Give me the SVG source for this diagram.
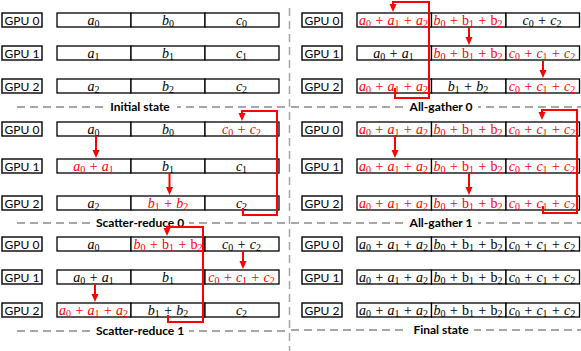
<svg xmlns="http://www.w3.org/2000/svg" width="581" height="351" viewBox="0 0 581 351">
<defs>
<style>
.lb{fill:#fff;stroke:#000;stroke-width:1.4}
.cl{fill:#fff;stroke:#000;stroke-width:1.3}
.lt{font-family:Lato,"Liberation Sans",sans-serif;font-size:12px;text-anchor:middle;fill:#000}
.m{font-family:"Liberation Serif",serif;font-style:italic;font-size:14px;text-anchor:middle;fill:#000}
.s{font-size:10px;font-style:normal}
.u{font-style:normal}
.r{fill:#f00}
.cap{font-family:Lato,"Liberation Sans",sans-serif;font-weight:bold;font-size:12px;text-anchor:middle;fill:#000}
.dash{stroke:#a6a6a6;stroke-width:2;stroke-dasharray:8 5;fill:none}
.vd{stroke:#a6a6a6;stroke-width:1.5;stroke-dasharray:8 5;fill:none}
.gap{fill:#fff}
.ar{stroke:#f00;stroke-width:2;fill:none;marker-end:url(#ah)}
</style>
<marker id="ah" markerUnits="userSpaceOnUse" markerWidth="8" markerHeight="8" viewBox="0 0 8 8" refX="5" refY="4" orient="auto"><path d="M0,0.5 L8,4 L0,7.5 z" fill="#f00"/></marker>
</defs>
<rect width="581" height="351" fill="#fff"/>

<g id="separators">
<line class="vd" x1="289.5" y1="8" x2="289.5" y2="351"/>
<line class="dash" x1="17" y1="107" x2="289" y2="107"/>
<line class="dash" x1="17" y1="223" x2="289" y2="223"/>
<line class="dash" x1="17" y1="331" x2="289" y2="331"/>
<line class="dash" x1="291" y1="107" x2="581" y2="107"/>
<line class="dash" x1="291" y1="223" x2="581" y2="223"/>
<line class="dash" x1="291" y1="330" x2="581" y2="330"/>
<rect class="gap" x="104" y="100" width="73" height="14"/>
<rect class="gap" x="90" y="216" width="99" height="14"/>
<rect class="gap" x="90" y="324" width="99" height="14"/>
<rect class="gap" x="404" y="100" width="74" height="14"/>
<rect class="gap" x="404" y="216" width="74" height="14"/>
<rect class="gap" x="408" y="323" width="66" height="14"/>
<text class="cap" x="140" y="111">Initial state</text>
<text class="cap" x="140" y="227">Scatter-reduce 0</text>
<text class="cap" x="140" y="335">Scatter-reduce 1</text>
<text class="cap" x="441" y="111">All-gather 0</text>
<text class="cap" x="441" y="227">All-gather 1</text>
<text class="cap" x="441" y="334">Final state</text>
</g>

<!-- Initial state -->
<g id="init-gpu0">
<rect class="lb" x="2" y="13" width="40" height="14"/><text class="lt" x="22" y="24.5">GPU 0</text>
<rect class="cl" x="57" y="13" width="74" height="14"/><rect class="cl" x="131" y="13" width="74" height="14"/><rect class="cl" x="205" y="13" width="74" height="14"/>
<text class="m" x="93.5" y="24.5">a<tspan class="s" dy="2.5">0</tspan></text>
<text class="m" x="168" y="24.5">b<tspan class="s" dy="2.5">0</tspan></text>
<text class="m" x="241.5" y="24.5">c<tspan class="s" dy="2.5">0</tspan></text>
</g>
<g id="init-gpu1">
<rect class="lb" x="2" y="46" width="40" height="14"/><text class="lt" x="22" y="57.5">GPU 1</text>
<rect class="cl" x="57" y="46" width="74" height="14"/><rect class="cl" x="131" y="46" width="74" height="14"/><rect class="cl" x="205" y="46" width="74" height="14"/>
<text class="m" x="93.5" y="57.5">a<tspan class="s" dy="2.5">1</tspan></text>
<text class="m" x="168" y="57.5">b<tspan class="s" dy="2.5">1</tspan></text>
<text class="m" x="241.5" y="57.5">c<tspan class="s" dy="2.5">1</tspan></text>
</g>
<g id="init-gpu2">
<rect class="lb" x="2" y="79" width="40" height="14"/><text class="lt" x="22" y="90.5">GPU 2</text>
<rect class="cl" x="57" y="79" width="74" height="14"/><rect class="cl" x="131" y="79" width="74" height="14"/><rect class="cl" x="205" y="79" width="74" height="14"/>
<text class="m" x="93.5" y="90.5">a<tspan class="s" dy="2.5">2</tspan></text>
<text class="m" x="168" y="90.5">b<tspan class="s" dy="2.5">2</tspan></text>
<text class="m" x="241.5" y="90.5">c<tspan class="s" dy="2.5">2</tspan></text>
</g>

<!-- Scatter-reduce 0 -->
<g id="sr0-gpu0">
<rect class="lb" x="2" y="122" width="40" height="14"/><text class="lt" x="22" y="133.5">GPU 0</text>
<rect class="cl" x="57" y="122" width="74" height="14"/><rect class="cl" x="131" y="122" width="74" height="14"/><rect class="cl" x="205" y="122" width="74" height="14"/>
<text class="m" x="93.5" y="133.5">a<tspan class="s" dy="2.5">0</tspan></text>
<text class="m" x="168" y="133.5">b<tspan class="s" dy="2.5">0</tspan></text>
<text class="m r" x="241.5" y="133.5">c<tspan class="s" dy="2.5">0</tspan><tspan dy="-2.5"> + c</tspan><tspan class="s" dy="2.5">2</tspan></text>
</g>
<g id="sr0-gpu1">
<rect class="lb" x="2" y="159" width="40" height="14"/><text class="lt" x="22" y="170.5">GPU 1</text>
<rect class="cl" x="57" y="159" width="74" height="14"/><rect class="cl" x="131" y="159" width="74" height="14"/><rect class="cl" x="205" y="159" width="74" height="14"/>
<text class="m r" x="93.5" y="170.5">a<tspan class="s" dy="2.5">0</tspan><tspan dy="-2.5"> + a</tspan><tspan class="s" dy="2.5">1</tspan></text>
<text class="m" x="168" y="170.5">b<tspan class="s" dy="2.5">1</tspan></text>
<text class="m" x="241.5" y="170.5">c<tspan class="s" dy="2.5">1</tspan></text>
</g>
<g id="sr0-gpu2">
<rect class="lb" x="2" y="196" width="40" height="14"/><text class="lt" x="22" y="207.5">GPU 2</text>
<rect class="cl" x="57" y="196" width="74" height="14"/><rect class="cl" x="131" y="196" width="74" height="14"/><rect class="cl" x="205" y="196" width="74" height="14"/>
<text class="m" x="93.5" y="207.5">a<tspan class="s" dy="2.5">2</tspan></text>
<text class="m r" x="168" y="207.5">b<tspan class="s" dy="2.5">1</tspan><tspan dy="-2.5"> + b</tspan><tspan class="s" dy="2.5">2</tspan></text>
<text class="m" x="241.5" y="207.5">c<tspan class="s" dy="2.5">2</tspan></text>
</g>

<!-- Scatter-reduce 1 -->
<g id="sr1-gpu0">
<rect class="lb" x="2" y="237" width="40" height="14"/><text class="lt" x="22" y="248.5">GPU 0</text>
<rect class="cl" x="57" y="237" width="74" height="14"/><rect class="cl" x="131" y="237" width="74" height="14"/><rect class="cl" x="205" y="237" width="74" height="14"/>
<text class="m" x="93.5" y="248.5">a<tspan class="s" dy="2.5">0</tspan></text>
<text class="m r" x="168" y="248.5">b<tspan class="s" dy="2.5">0</tspan><tspan dy="-2.5"> + </tspan><tspan class="u">b</tspan><tspan class="s" dy="2.5">1</tspan><tspan dy="-2.5"> + </tspan><tspan class="u">b</tspan><tspan class="s" dy="2.5">2</tspan></text>
<text class="m" x="241.5" y="248.5">c<tspan class="s" dy="2.5">0</tspan><tspan dy="-2.5"> + c</tspan><tspan class="s" dy="2.5">2</tspan></text>
</g>
<g id="sr1-gpu1">
<rect class="lb" x="2" y="270" width="40" height="14"/><text class="lt" x="22" y="281.5">GPU 1</text>
<rect class="cl" x="57" y="270" width="74" height="14"/><rect class="cl" x="131" y="270" width="74" height="14"/><rect class="cl" x="205" y="270" width="74" height="14"/>
<text class="m" x="93.5" y="281.5">a<tspan class="s" dy="2.5">0</tspan><tspan dy="-2.5"> + a</tspan><tspan class="s" dy="2.5">1</tspan></text>
<text class="m" x="168" y="281.5">b<tspan class="s" dy="2.5">1</tspan></text>
<text class="m r" x="241.5" y="281.5">c<tspan class="s" dy="2.5">0</tspan><tspan dy="-2.5"> + c</tspan><tspan class="s" dy="2.5">1</tspan><tspan dy="-2.5"> + c</tspan><tspan class="s" dy="2.5">2</tspan></text>
</g>
<g id="sr1-gpu2">
<rect class="lb" x="2" y="303" width="40" height="14"/><text class="lt" x="22" y="314.5">GPU 2</text>
<rect class="cl" x="57" y="303" width="74" height="14"/><rect class="cl" x="131" y="303" width="74" height="14"/><rect class="cl" x="205" y="303" width="74" height="14"/>
<text class="m r" x="93.5" y="314.5">a<tspan class="s" dy="2.5">0</tspan><tspan dy="-2.5"> + a</tspan><tspan class="s" dy="2.5">1</tspan><tspan dy="-2.5"> + a</tspan><tspan class="s" dy="2.5">2</tspan></text>
<text class="m" x="168" y="314.5">b<tspan class="s" dy="2.5">1</tspan><tspan dy="-2.5"> + b</tspan><tspan class="s" dy="2.5">2</tspan></text>
<text class="m" x="241.5" y="314.5">c<tspan class="s" dy="2.5">2</tspan></text>
</g>

<!-- All-gather 0 -->
<g id="ag0-gpu0">
<rect class="lb" x="302" y="13" width="40" height="14"/><text class="lt" x="322" y="24.5">GPU 0</text>
<rect class="cl" x="357" y="13" width="74.5" height="14"/><rect class="cl" x="431.5" y="13" width="74.5" height="14"/><rect class="cl" x="506" y="13" width="73.5" height="14"/>
<text class="m r" x="393.5" y="24.5">a<tspan class="s" dy="2.5">0</tspan><tspan dy="-2.5"> + a</tspan><tspan class="s" dy="2.5">1</tspan><tspan dy="-2.5"> + a</tspan><tspan class="s" dy="2.5">2</tspan></text>
<text class="m r" x="468" y="24.5">b<tspan class="s" dy="2.5">0</tspan><tspan dy="-2.5"> + </tspan><tspan class="u">b</tspan><tspan class="s" dy="2.5">1</tspan><tspan dy="-2.5"> + </tspan><tspan class="u">b</tspan><tspan class="s" dy="2.5">2</tspan></text>
<text class="m" x="542" y="24.5">c<tspan class="s" dy="2.5">0</tspan><tspan dy="-2.5"> + c</tspan><tspan class="s" dy="2.5">2</tspan></text>
</g>
<g id="ag0-gpu1">
<rect class="lb" x="302" y="46" width="40" height="14"/><text class="lt" x="322" y="57.5">GPU 1</text>
<rect class="cl" x="357" y="46" width="74.5" height="14"/><rect class="cl" x="431.5" y="46" width="74.5" height="14"/><rect class="cl" x="506" y="46" width="73.5" height="14"/>
<text class="m" x="393.5" y="57.5">a<tspan class="s" dy="2.5">0</tspan><tspan dy="-2.5"> + a</tspan><tspan class="s" dy="2.5">1</tspan></text>
<text class="m r" x="468" y="57.5">b<tspan class="s" dy="2.5">0</tspan><tspan dy="-2.5"> + </tspan><tspan class="u">b</tspan><tspan class="s" dy="2.5">1</tspan><tspan dy="-2.5"> + </tspan><tspan class="u">b</tspan><tspan class="s" dy="2.5">2</tspan></text>
<text class="m r" x="542" y="57.5">c<tspan class="s" dy="2.5">0</tspan><tspan dy="-2.5"> + c</tspan><tspan class="s" dy="2.5">1</tspan><tspan dy="-2.5"> + c</tspan><tspan class="s" dy="2.5">2</tspan></text>
</g>
<g id="ag0-gpu2">
<rect class="lb" x="302" y="79" width="40" height="14"/><text class="lt" x="322" y="90.5">GPU 2</text>
<rect class="cl" x="357" y="79" width="74.5" height="14"/><rect class="cl" x="431.5" y="79" width="74.5" height="14"/><rect class="cl" x="506" y="79" width="73.5" height="14"/>
<text class="m r" x="393.5" y="90.5">a<tspan class="s" dy="2.5">0</tspan><tspan dy="-2.5"> + a</tspan><tspan class="s" dy="2.5">1</tspan><tspan dy="-2.5"> + a</tspan><tspan class="s" dy="2.5">2</tspan></text>
<text class="m" x="468" y="90.5">b<tspan class="s" dy="2.5">1</tspan><tspan dy="-2.5"> + b</tspan><tspan class="s" dy="2.5">2</tspan></text>
<text class="m r" x="542" y="90.5">c<tspan class="s" dy="2.5">0</tspan><tspan dy="-2.5"> + c</tspan><tspan class="s" dy="2.5">1</tspan><tspan dy="-2.5"> + c</tspan><tspan class="s" dy="2.5">2</tspan></text>
</g>

<!-- All-gather 1 -->
<g id="ag1-gpu0">
<rect class="lb" x="302" y="122" width="40" height="14"/><text class="lt" x="322" y="133.5">GPU 0</text>
<rect class="cl" x="357" y="122" width="74.5" height="14"/><rect class="cl" x="431.5" y="122" width="74.5" height="14"/><rect class="cl" x="506" y="122" width="73.5" height="14"/>
<text class="m r" x="393.5" y="133.5">a<tspan class="s" dy="2.5">0</tspan><tspan dy="-2.5"> + a</tspan><tspan class="s" dy="2.5">1</tspan><tspan dy="-2.5"> + a</tspan><tspan class="s" dy="2.5">2</tspan></text>
<text class="m r" x="468" y="133.5">b<tspan class="s" dy="2.5">0</tspan><tspan dy="-2.5"> + </tspan><tspan class="u">b</tspan><tspan class="s" dy="2.5">1</tspan><tspan dy="-2.5"> + </tspan><tspan class="u">b</tspan><tspan class="s" dy="2.5">2</tspan></text>
<text class="m r" x="542" y="133.5">c<tspan class="s" dy="2.5">0</tspan><tspan dy="-2.5"> + c</tspan><tspan class="s" dy="2.5">1</tspan><tspan dy="-2.5"> + c</tspan><tspan class="s" dy="2.5">2</tspan></text>
</g>
<g id="ag1-gpu1">
<rect class="lb" x="302" y="159" width="40" height="14"/><text class="lt" x="322" y="170.5">GPU 1</text>
<rect class="cl" x="357" y="159" width="74.5" height="14"/><rect class="cl" x="431.5" y="159" width="74.5" height="14"/><rect class="cl" x="506" y="159" width="73.5" height="14"/>
<text class="m r" x="393.5" y="170.5">a<tspan class="s" dy="2.5">0</tspan><tspan dy="-2.5"> + a</tspan><tspan class="s" dy="2.5">1</tspan><tspan dy="-2.5"> + a</tspan><tspan class="s" dy="2.5">2</tspan></text>
<text class="m r" x="468" y="170.5">b<tspan class="s" dy="2.5">0</tspan><tspan dy="-2.5"> + </tspan><tspan class="u">b</tspan><tspan class="s" dy="2.5">1</tspan><tspan dy="-2.5"> + </tspan><tspan class="u">b</tspan><tspan class="s" dy="2.5">2</tspan></text>
<text class="m r" x="542" y="170.5">c<tspan class="s" dy="2.5">0</tspan><tspan dy="-2.5"> + c</tspan><tspan class="s" dy="2.5">1</tspan><tspan dy="-2.5"> + c</tspan><tspan class="s" dy="2.5">2</tspan></text>
</g>
<g id="ag1-gpu2">
<rect class="lb" x="302" y="196" width="40" height="14"/><text class="lt" x="322" y="207.5">GPU 2</text>
<rect class="cl" x="357" y="196" width="74.5" height="14"/><rect class="cl" x="431.5" y="196" width="74.5" height="14"/><rect class="cl" x="506" y="196" width="73.5" height="14"/>
<text class="m r" x="393.5" y="207.5">a<tspan class="s" dy="2.5">0</tspan><tspan dy="-2.5"> + a</tspan><tspan class="s" dy="2.5">1</tspan><tspan dy="-2.5"> + a</tspan><tspan class="s" dy="2.5">2</tspan></text>
<text class="m r" x="468" y="207.5">b<tspan class="s" dy="2.5">0</tspan><tspan dy="-2.5"> + </tspan><tspan class="u">b</tspan><tspan class="s" dy="2.5">1</tspan><tspan dy="-2.5"> + </tspan><tspan class="u">b</tspan><tspan class="s" dy="2.5">2</tspan></text>
<text class="m r" x="542" y="207.5">c<tspan class="s" dy="2.5">0</tspan><tspan dy="-2.5"> + c</tspan><tspan class="s" dy="2.5">1</tspan><tspan dy="-2.5"> + c</tspan><tspan class="s" dy="2.5">2</tspan></text>
</g>

<!-- Final state -->
<g id="fin-gpu0">
<rect class="lb" x="302" y="237" width="40" height="14"/><text class="lt" x="322" y="248.5">GPU 0</text>
<rect class="cl" x="357" y="237" width="74.5" height="14"/><rect class="cl" x="431.5" y="237" width="74.5" height="14"/><rect class="cl" x="506" y="237" width="73.5" height="14"/>
<text class="m" x="393.5" y="248.5">a<tspan class="s" dy="2.5">0</tspan><tspan dy="-2.5"> + a</tspan><tspan class="s" dy="2.5">1</tspan><tspan dy="-2.5"> + a</tspan><tspan class="s" dy="2.5">2</tspan></text>
<text class="m" x="468" y="248.5">b<tspan class="s" dy="2.5">0</tspan><tspan dy="-2.5"> + </tspan><tspan class="u">b</tspan><tspan class="s" dy="2.5">1</tspan><tspan dy="-2.5"> + </tspan><tspan class="u">b</tspan><tspan class="s" dy="2.5">2</tspan></text>
<text class="m" x="542" y="248.5">c<tspan class="s" dy="2.5">0</tspan><tspan dy="-2.5"> + c</tspan><tspan class="s" dy="2.5">1</tspan><tspan dy="-2.5"> + c</tspan><tspan class="s" dy="2.5">2</tspan></text>
</g>
<g id="fin-gpu1">
<rect class="lb" x="302" y="270" width="40" height="14"/><text class="lt" x="322" y="281.5">GPU 1</text>
<rect class="cl" x="357" y="270" width="74.5" height="14"/><rect class="cl" x="431.5" y="270" width="74.5" height="14"/><rect class="cl" x="506" y="270" width="73.5" height="14"/>
<text class="m" x="393.5" y="281.5">a<tspan class="s" dy="2.5">0</tspan><tspan dy="-2.5"> + a</tspan><tspan class="s" dy="2.5">1</tspan><tspan dy="-2.5"> + a</tspan><tspan class="s" dy="2.5">2</tspan></text>
<text class="m" x="468" y="281.5">b<tspan class="s" dy="2.5">0</tspan><tspan dy="-2.5"> + </tspan><tspan class="u">b</tspan><tspan class="s" dy="2.5">1</tspan><tspan dy="-2.5"> + </tspan><tspan class="u">b</tspan><tspan class="s" dy="2.5">2</tspan></text>
<text class="m" x="542" y="281.5">c<tspan class="s" dy="2.5">0</tspan><tspan dy="-2.5"> + c</tspan><tspan class="s" dy="2.5">1</tspan><tspan dy="-2.5"> + c</tspan><tspan class="s" dy="2.5">2</tspan></text>
</g>
<g id="fin-gpu2">
<rect class="lb" x="302" y="303" width="40" height="14"/><text class="lt" x="322" y="314.5">GPU 2</text>
<rect class="cl" x="357" y="303" width="74.5" height="14"/><rect class="cl" x="431.5" y="303" width="74.5" height="14"/><rect class="cl" x="506" y="303" width="73.5" height="14"/>
<text class="m" x="393.5" y="314.5">a<tspan class="s" dy="2.5">0</tspan><tspan dy="-2.5"> + a</tspan><tspan class="s" dy="2.5">1</tspan><tspan dy="-2.5"> + a</tspan><tspan class="s" dy="2.5">2</tspan></text>
<text class="m" x="468" y="314.5">b<tspan class="s" dy="2.5">0</tspan><tspan dy="-2.5"> + </tspan><tspan class="u">b</tspan><tspan class="s" dy="2.5">1</tspan><tspan dy="-2.5"> + </tspan><tspan class="u">b</tspan><tspan class="s" dy="2.5">2</tspan></text>
<text class="m" x="542" y="314.5">c<tspan class="s" dy="2.5">0</tspan><tspan dy="-2.5"> + c</tspan><tspan class="s" dy="2.5">1</tspan><tspan dy="-2.5"> + c</tspan><tspan class="s" dy="2.5">2</tspan></text>
</g>

<g id="connectors">
<path class="ar" d="M96,136 V155"/>
<path class="ar" d="M169.5,173 V192"/>
<path class="ar" d="M243,208 V215 H277 V111 H242 V118"/>
<path class="ar" d="M168,315 V322 H203 V227 H167 V233"/>
<path class="ar" d="M243,251 V266"/>
<path class="ar" d="M95,284 V299"/>
<path class="ar" d="M395,88 V98 H429 V2 H393 V9"/>
<path class="ar" d="M469,27 V42"/>
<path class="ar" d="M543,61 V75"/>
<path class="ar" d="M395,136 V155"/>
<path class="ar" d="M469,173 V192"/>
<path class="ar" d="M543,206 V213 H577 V110 H542 V117"/>
</g>
</svg>
